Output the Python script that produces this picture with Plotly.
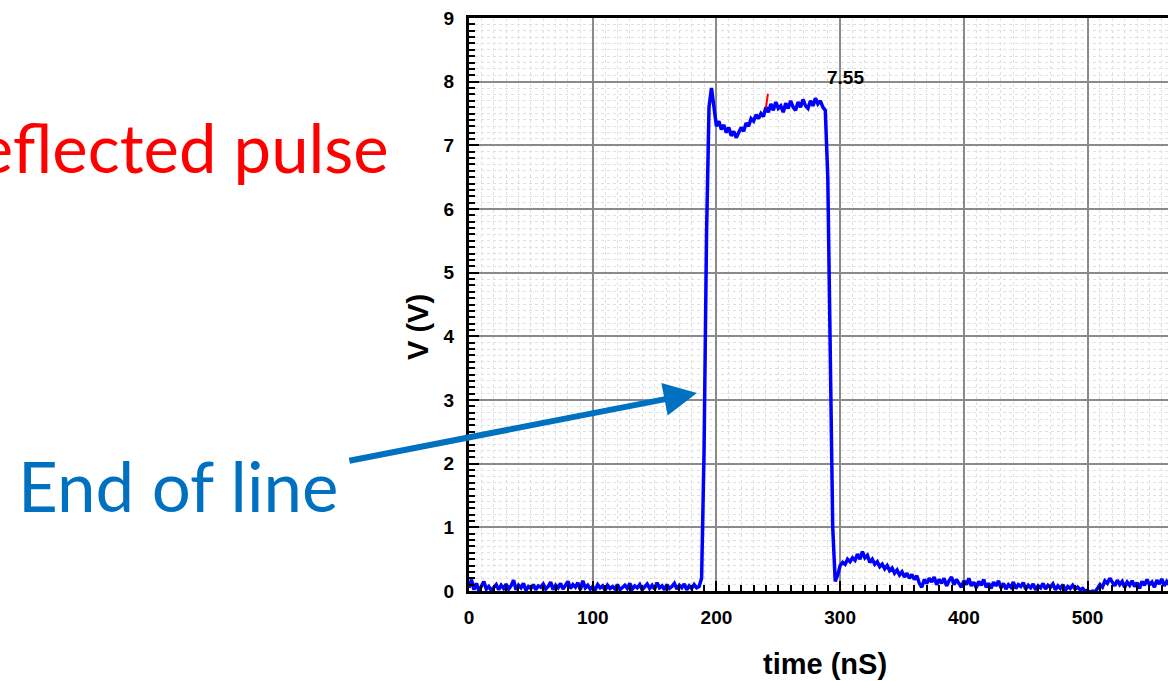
import plotly.graph_objects as go

# Voltage trace (V), sampled every 2 ns from 0 ns
volts = [
    0.05, 0.18, 0.02, 0.12, 0.0, 0.08, 0.15, 0.03, 0.07, 0.01,
    0.06, 0.1, 0.02, 0.09, 0.04, 0.11, 0.03, 0.08, 0.17, 0.02,
    0.09, 0.05, 0.12, 0.01, 0.07, 0.04, 0.1, 0.02, 0.08, 0.06,
    0.11, 0.03, 0.07, 0.14, 0.02, 0.09, 0.05, 0.12, 0.03, 0.08,
    0.15, 0.04, 0.1, 0.06, 0.13, 0.02, 0.16, 0.05, 0.09, 0.03,
    0.07, 0.02, 0.1, 0.05, 0.08, 0.01, 0.09, 0.04, 0.07, 0.03,
    0.1, 0.02, 0.06, 0.09, 0.04, 0.12, 0.03, 0.08, 0.05, 0.1,
    0.02, 0.07, 0.11, 0.04, 0.09, 0.03, 0.13, 0.05, 0.08, 0.02,
    0.1, 0.04, 0.07, 0.12, 0.03, 0.09, 0.05, 0.11, 0.02, 0.08,
    0.04, 0.1, 0.05, 0.07,
    0.2, 2.2, 5.6, 7.6, 7.9, 7.6,
    7.3, 7.38, 7.25, 7.32, 7.2, 7.28, 7.15, 7.22, 7.12, 7.2,
    7.28, 7.22, 7.35, 7.3, 7.42, 7.38, 7.48, 7.42, 7.5, 7.45,
    7.6, 7.52, 7.65, 7.55, 7.68, 7.58, 7.62, 7.52, 7.66, 7.58,
    7.7, 7.6, 7.55, 7.68, 7.6, 7.72, 7.62, 7.58, 7.7, 7.62,
    7.74, 7.65, 7.7, 7.6, 7.55, 6.5, 3.5, 1.0, 0.15, 0.25,
    0.4, 0.45, 0.42, 0.5, 0.46, 0.52, 0.48, 0.58, 0.5, 0.62,
    0.52, 0.56, 0.45, 0.5, 0.42, 0.46, 0.38, 0.42, 0.35, 0.4,
    0.32, 0.36, 0.28, 0.33, 0.25, 0.3, 0.22, 0.28, 0.2, 0.26,
    0.18, 0.24, 0.12, 0.06, 0.18, 0.12, 0.2, 0.14, 0.22, 0.1,
    0.18, 0.12, 0.2, 0.08, 0.16, 0.22, 0.1, 0.18, 0.12, 0.06,
    0.16, 0.1, 0.2, 0.08, 0.14, 0.05, 0.15, 0.09, 0.18, 0.06,
    0.12, 0.04, 0.14, 0.08, 0.16, 0.05, 0.12, 0.03, 0.1, 0.06,
    0.14, 0.04, 0.1, 0.07, 0.13, 0.03, 0.09, 0.05, 0.11, 0.02,
    0.08, 0.05, 0.12, 0.03, 0.09, 0.06, 0.11, 0.02, 0.08, 0.04,
    0.1, 0.01, 0.07, 0.04, 0.09, 0.03, 0.06, 0.02, 0.04, 0.0,
    0.01, -0.02, 0.0, -0.01, 0.04, 0.1, 0.06, 0.16, 0.12, 0.2,
    0.14, 0.08, 0.17, 0.1, 0.15, 0.06, 0.14, 0.09, 0.16, 0.07,
    0.13, 0.04, 0.15, 0.09, 0.18, 0.1, 0.14, 0.06, 0.17, 0.11,
    0.19, 0.08, 0.15, 0.1,
]
time_ns = [2 * i for i in range(len(volts))]

cursor_t = [241.6, 240.0]
cursor_v = [7.81, 7.59]

x_ticks = [0, 100, 200, 300, 400, 500]
y_ticks = [0, 1, 2, 3, 4, 5, 6, 7, 8, 9]

PL, PR, PT, PB = 469, 1168, 18, 591
def xp(px):
    return (px - PL) / (PR - PL)
def yp(py):
    return (PB - py) / (PB - PT)

fig = go.Figure()
fig.add_trace(go.Scatter(x=time_ns, y=volts, mode="lines",
                         line=dict(color="#0000FF", width=3.5), hoverinfo="skip"))
fig.add_trace(go.Scatter(x=cursor_t, y=cursor_v, mode="lines",
                         line=dict(color="#FF0000", width=2), hoverinfo="skip"))

tickfont = dict(family="Liberation Sans, Arial", size=19, color="black", weight="bold")

fig.update_xaxes(range=[0, 565], tickvals=x_ticks, ticktext=[str(v) for v in x_ticks],
                 showline=True, linewidth=3, linecolor="black", mirror=True,
                 ticks="inside", ticklen=10, tickwidth=2, tickcolor="black",
                 showgrid=True, gridcolor="#8a8a8a", gridwidth=1.5, zeroline=False,
                 tickfont=tickfont, ticklabelstandoff=7,
                 minor=dict(dtick=10, tick0=0, ticks="inside", ticklen=6, tickwidth=2,
                            tickcolor="black", showgrid=True, gridcolor="#e0e0e0",
                            griddash="dot", gridwidth=1))
fig.update_yaxes(range=[0, 9], tickvals=y_ticks, ticktext=[str(v) for v in y_ticks],
                 showline=True, linewidth=3, linecolor="black", mirror=False,
                 ticks="inside", ticklen=10, tickwidth=2, tickcolor="black",
                 showgrid=True, gridcolor="#8a8a8a", gridwidth=1.5, zeroline=False,
                 tickfont=tickfont, ticklabelstandoff=8,
                 minor=dict(dtick=0.1, tick0=0, ticks="inside", ticklen=6, tickwidth=2,
                            tickcolor="black", showgrid=True, gridcolor="#e0e0e0",
                            griddash="dot", gridwidth=1))

bold = dict(family="Liberation Sans, Arial", color="black", weight="bold")
annotations = [
    dict(text="7.55", x=xp(845), y=yp(77), xref="paper", yref="paper",
         xanchor="center", yanchor="middle",
         showarrow=False, font=dict(size=19, **bold)),
    dict(text="time (nS)", x=xp(825), y=yp(664), xref="paper", yref="paper",
         xanchor="center", yanchor="middle",
         showarrow=False, font=dict(size=29, **bold)),
    dict(text="V (V)", x=xp(418), y=yp(327), xref="paper", yref="paper",
         xanchor="center", yanchor="middle",
         showarrow=False, textangle=-90, font=dict(size=29, **bold)),
    dict(text="Reflected pulse", x=xp(391), y=yp(147), xref="paper", yref="paper",
         xanchor="right", yanchor="middle", showarrow=False,
         font=dict(family="Lato", size=67, color="#FF0000")),
    dict(text="End of line", x=xp(16), y=yp(485), xref="paper", yref="paper",
         xanchor="left", yanchor="middle", showarrow=False,
         font=dict(family="Lato", size=69, color="#0070C0")),
    dict(text="", x=184.2, y=3.11, xref="x", yref="y", showarrow=True,
         ax=-349, ay=68, arrowhead=2, arrowwidth=6, arrowsize=1.1,
         arrowcolor="#0070C0"),
]

fig.update_layout(width=1168, height=681,
                  margin=dict(l=PL, r=1168 - PR, t=PT, b=681 - PB, pad=0),
                  plot_bgcolor="white", paper_bgcolor="white",
                  showlegend=False, annotations=annotations)

fig.write_html("out.html")
